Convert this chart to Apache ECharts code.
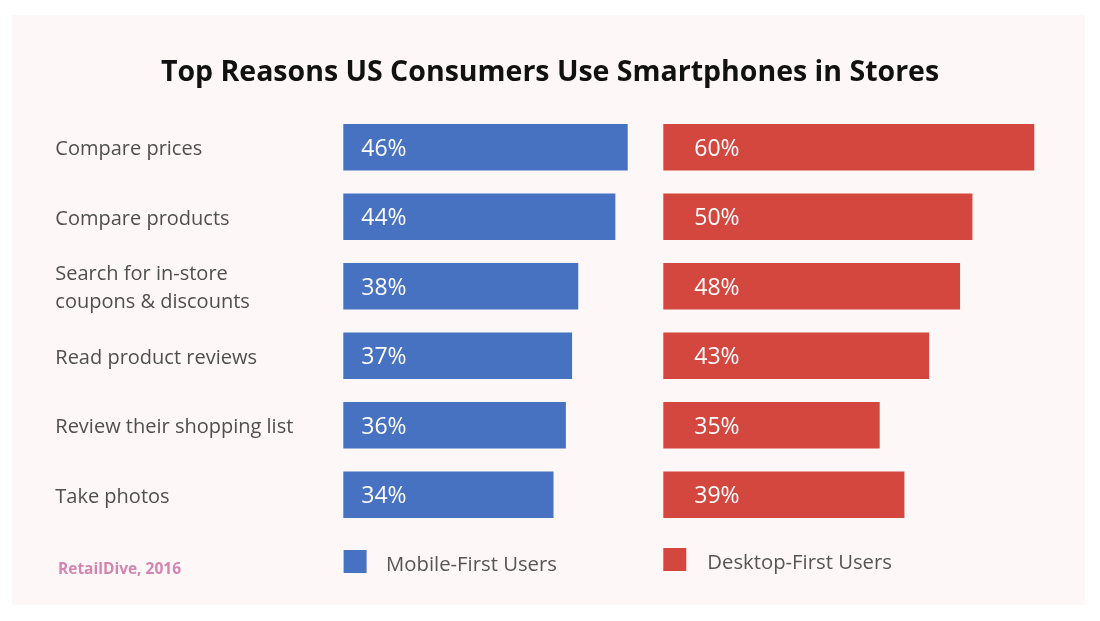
<!DOCTYPE html>
<html>
<head>
<meta charset="utf-8">
<script src="https://cdn.jsdelivr.net/npm/echarts@6/dist/echarts.min.js"></script>
<style>
html,body{margin:0;padding:0;background:#ffffff;}
#main{width:1100px;height:621px;}
</style>
</head>
<body>
<div id="main"></div>
<script>
const categories = [
  "Compare prices",
  "Compare products",
  "Search for in-store\ncoupons & discounts",
  "Read product reviews",
  "Review their shopping list",
  "Take photos"
];
const mobileFirst = [46, 44, 38, 37, 36, 34];
const desktopFirst = [60, 50, 48, 43, 35, 39];
const seriesNames = ["Mobile-First Users", "Desktop-First Users"];
const titleText = "Top Reasons US Consumers Use Smartphones in Stores";
const sourceText = "RetailDive, 2016";

const FONT = "'Open Sans', sans-serif";
const BLUE = "#4672C1";
const RED = "#D3473F";
const PX_PER_UNIT = 6.183;

const chart = echarts.init(document.getElementById('main'), null, {renderer: 'canvas'});

function labelCfg(dist) {
  return {
    show: true,
    position: 'insideLeft',
    distance: dist,
    offset: [0, 2],
    color: '#ffffff',
    fontFamily: FONT,
    fontSize: 23,
    formatter: p => p.value + '%'
  };
}

function legendText(padLeft) {
  return {
    fontFamily: FONT, fontSize: 20.3, color: '#555555',
    rich: {t: {fontFamily: FONT, fontSize: 20.3, color: '#555555', padding: [8, 0, 0, padLeft]}}
  };
}

chart.setOption({
  backgroundColor: '#ffffff',
  animation: false,
  graphic: [
    {type: 'rect', z: -10, shape: {x: 12, y: 15, width: 1073, height: 590}, style: {fill: '#FDF8F7'}},
    {type: 'text', left: 'center', top: 58, style: {text: titleText, font: "bold 28.5px " + FONT, fill: '#111111'}},
    {type: 'text', left: 58, top: 562, style: {text: sourceText, font: "bold 15.5px " + FONT, fill: '#D484AF'}}
  ],
  legend: [
    {data: [seriesNames[0]], left: 343.6, top: 550, padding: 0, itemWidth: 23, itemHeight: 23, icon: 'rect',
     formatter: '{t|{name}}', textStyle: legendText(14.5)},
    {data: [seriesNames[1]], left: 663.3, top: 548, padding: 0, itemWidth: 23, itemHeight: 23, icon: 'rect',
     formatter: '{t|{name}}', textStyle: legendText(16)}
  ],
  grid: [
    {left: 343.3, top: 112.6, width: 50 * PX_PER_UNIT, height: 417},
    {left: 663.3, top: 112.6, width: 65 * PX_PER_UNIT, height: 417}
  ],
  xAxis: [
    {gridIndex: 0, type: 'value', min: 0, max: 50, show: false},
    {gridIndex: 1, type: 'value', min: 0, max: 65, show: false}
  ],
  yAxis: [
    {gridIndex: 0, type: 'category', data: categories, inverse: true,
     axisLine: {show: false}, axisTick: {show: false}, splitLine: {show: false},
     axisLabel: {align: 'left', margin: 288, fontFamily: FONT, fontSize: 20, color: '#4f4f4f', lineHeight: 28,
       formatter: v => '{c|' + v + '}',
       rich: {c: {fontFamily: FONT, fontSize: 20, color: '#4f4f4f', lineHeight: 28, padding: [4, 0, 0, 0]}}}},
    {gridIndex: 1, type: 'category', data: categories, inverse: true, show: false}
  ],
  series: [
    {name: seriesNames[0], type: 'bar', xAxisIndex: 0, yAxisIndex: 0, data: mobileFirst,
     barWidth: 46.5, itemStyle: {color: BLUE}, label: labelCfg(18)},
    {name: seriesNames[1], type: 'bar', xAxisIndex: 1, yAxisIndex: 1, data: desktopFirst,
     barWidth: 46.5, itemStyle: {color: RED}, label: labelCfg(31)}
  ]
});
</script>
</body>
</html>
